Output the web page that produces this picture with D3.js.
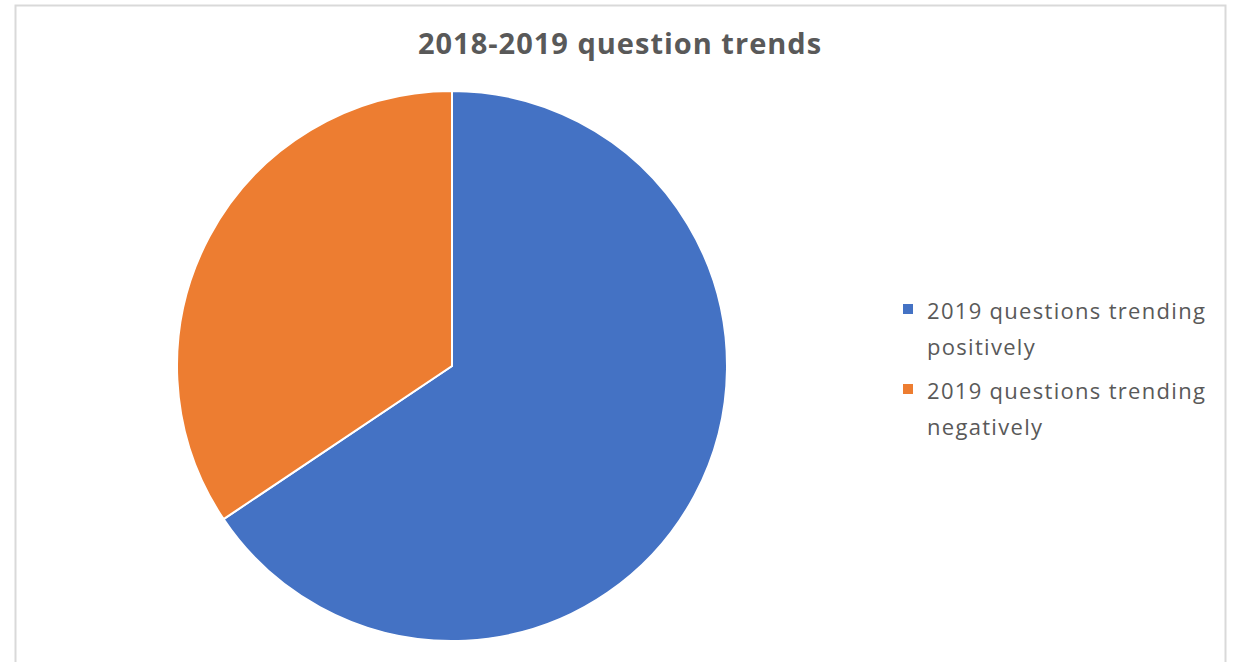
<!DOCTYPE html>
<html>
<head>
<meta charset="utf-8">
<script src="https://cdn.jsdelivr.net/npm/d3@7"></script>
<style>
  body { margin: 0; background: #fff; }
  svg { display: block; }
</style>
</head>
<body>
<div id="chart"></div>
<script>
const categories = ['2019 questions trending positively', '2019 questions trending negatively'];
const legendLines = [['2019 questions trending', 'positively'], ['2019 questions trending', 'negatively']];
const values = [65.6, 34.4];
const colors = ['#4472C4', '#ED7D31'];

const width = 1235, height = 662;
const cx = 452, cy = 366, radius = 275;

const svg = d3.select('#chart').append('svg')
  .attr('width', width)
  .attr('height', height);

// chart frame (bottom edge is cut off)
svg.append('path')
  .attr('d', `M15.5,${height} V5.5 H1225.5 V${height}`)
  .attr('fill', 'none')
  .attr('stroke', '#d9d9d9')
  .attr('stroke-width', 2);

svg.append('text')
  .attr('x', 620)
  .attr('y', 54)
  .attr('text-anchor', 'middle')
  .attr('font-family', '"Open Sans", sans-serif')
  .attr('font-weight', 'bold')
  .attr('font-size', '29px')
  .attr('letter-spacing', '1px')
  .attr('fill', '#595959')
  .text('2018-2019 question trends');

const pie = d3.pie().sort(null).value(d => d);
const arc = d3.arc().innerRadius(0).outerRadius(radius);

svg.append('g')
  .attr('transform', `translate(${cx},${cy})`)
  .selectAll('path')
  .data(pie(values))
  .join('path')
  .attr('d', arc)
  .attr('fill', (d, i) => colors[i])
  .attr('stroke', '#fff')
  .attr('stroke-width', 2);

const legend = svg.append('g')
  .attr('font-family', '"Open Sans", sans-serif')
  .attr('font-size', '22px')
  .attr('letter-spacing', '1.3px')
  .attr('fill', '#595959');

const item = legend.selectAll('g')
  .data(categories)
  .join('g')
  .attr('transform', (d, i) => `translate(903,${304 + i * 80})`);

item.append('rect')
  .attr('width', 10)
  .attr('height', 10)
  .attr('fill', (d, i) => colors[i]);

item.each(function (d, i) {
  const t = d3.select(this).append('text').attr('x', 24).attr('y', 15);
  legendLines[i].forEach((line, j) => {
    t.append('tspan').attr('x', 24).attr('dy', j === 0 ? 0 : 36).text(line);
  });
});
</script>
</body>
</html>
